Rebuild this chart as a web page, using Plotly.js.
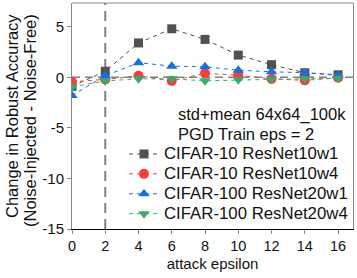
<!DOCTYPE html>
<html>
<head>
<meta charset="utf-8">
<script src="https://cdn.plot.ly/plotly-3.0.1.min.js"></script>
<style>html,body{margin:0;padding:0;background:#fff;}#chart{width:357px;height:278px;}</style>
</head>
<body>
<div id="chart"></div>
<script>
const epsilons = [0, 2, 4, 6, 8, 10, 12, 14, 16];
const seriesNames = ["CIFAR-10 ResNet10w1", "CIFAR-10 ResNet10w4", "CIFAR-100 ResNet20w1", "CIFAR-100 ResNet20w4"];
const c10w1 = [-0.9, 0.6, 3.4, 4.8, 3.75, 2.2, 1.25, 0.45, 0.25];
const c10w4 = [-0.45, -0.2, 0.15, -0.35, 0.4, 0.2, -0.15, -0.3, -0.05];
const c100w1 = [-1.8, 0.15, 1.45, 1.1, 1.05, 0.7, 0.55, 0.45, 0.2];
const c100w4 = [-0.95, -0.35, -0.15, -0.15, -0.35, -0.25, -0.2, -0.15, -0.1];
const yTickVals = [5, 0, -5, -10, -15];
const yTickText = ["5", "0", "-5", "-10", "-15"];
const xTickVals = [0, 2, 4, 6, 8, 10, 12, 14, 16];
const legendTitleLines = ["std+mean 64x64_100k", "PGD Train eps = 2"];
const xTitle = "attack epsilon";
const yTitleLines = ["Change in Robust Accuracy", "(Noise-Injected - Noise-Free)"];

const colors = ["#515151", "#F14040", "#1A6FDF", "#37AD6B"];
const symbols = ["square", "circle", "triangle-up", "triangle-down"];
const values = [c10w1, c10w4, c100w1, c100w4];
const FONT = "Liberation Sans, Arial, sans-serif";
const BIG = 16.8;

const traces = values.map((v, i) => ({
  x: epsilons, y: v,
  name: '<span style="font-size:' + BIG + 'px">' + seriesNames[i] + '</span>',
  type: "scatter", mode: "lines+markers",
  line: {color: colors[i], width: 1, dash: "4px,4px"},
  marker: {color: colors[i], symbol: symbols[i], size: i === 0 ? 9 : 10},
  cliponaxis: true
}));

// plot area in pixels: x 72..353, y 3..229
const L = 72, R = 4, T = 3, B = 49, W = 357, H = 278;
const pw = W - L - R, ph = H - T - B;
const px = (x) => (x - L) / pw;
const py = (y) => (H - B - y) / ph;

const layout = {
  width: W, height: H,
  margin: {l: L, r: R, t: T, b: B},
  paper_bgcolor: "#fff", plot_bgcolor: "#fff",
  font: {family: FONT, size: 14, color: "#111"},
  showlegend: true,
  legend: {x: 1, xanchor: "right", y: 0.0, yanchor: "bottom", bgcolor: "rgba(0,0,0,0)",
           font: {family: FONT, size: 13, color: "#111"}, tracegroupgap: 0},
  xaxis: {range: [0, 16.9], tickvals: xTickVals, showgrid: false, zeroline: false,
          showline: true, linecolor: "#000", linewidth: 1, ticks: "outside", ticklen: 4,
          tickcolor: "#888", tickfont: {size: 14.5},
          title: {text: xTitle, font: {size: 15}, standoff: 5}},
  yaxis: {range: [-15, 7.35], tickvals: yTickVals, ticktext: yTickText, showgrid: false, zeroline: false,
          showline: true, mirror: true, linecolor: "#888", linewidth: 1, ticks: "outside", ticklen: 4,
          tickcolor: "#888", tickfont: {size: 15}},
  shapes: [
    {type: "line", xref: "paper", yref: "paper", x0: 0, x1: 1, y0: 1, y1: 1, line: {color: "#888", width: 1}},
    {type: "line", xref: "paper", yref: "y", x0: 0, x1: 1, y0: 0, y1: 0, line: {color: "#808080", width: 1.5, dash: "8px,5px"}, layer: "below"},
    {type: "line", xref: "x", yref: "paper", x0: 2, x1: 2, y0: 0, y1: 1, line: {color: "#808080", width: 2, dash: "10px,6px"}, layer: "below"}
  ],
  annotations: [
    {text: legendTitleLines[0], xref: "paper", yref: "paper", x: px(176), y: py(114), xanchor: "left", yanchor: "middle",
     showarrow: false, font: {family: FONT, size: 16.5, color: "#111"}},
    {text: legendTitleLines[1], xref: "paper", yref: "paper", x: px(176), y: py(134), xanchor: "left", yanchor: "middle",
     showarrow: false, font: {family: FONT, size: 16.5, color: "#111"}},
    {text: yTitleLines[0], xref: "paper", yref: "paper", x: px(12), y: py(116), xanchor: "center", yanchor: "middle",
     textangle: -90, showarrow: false, font: {family: FONT, size: 16.5, color: "#111"}},
    {text: yTitleLines[1], xref: "paper", yref: "paper", x: px(30), y: py(121), xanchor: "center", yanchor: "middle",
     textangle: -90, showarrow: false, font: {family: FONT, size: 16.5, color: "#111"}}
  ]
};

Plotly.newPlot("chart", traces, layout, {displayModeBar: false, staticPlot: true});
</script>
</body>
</html>
